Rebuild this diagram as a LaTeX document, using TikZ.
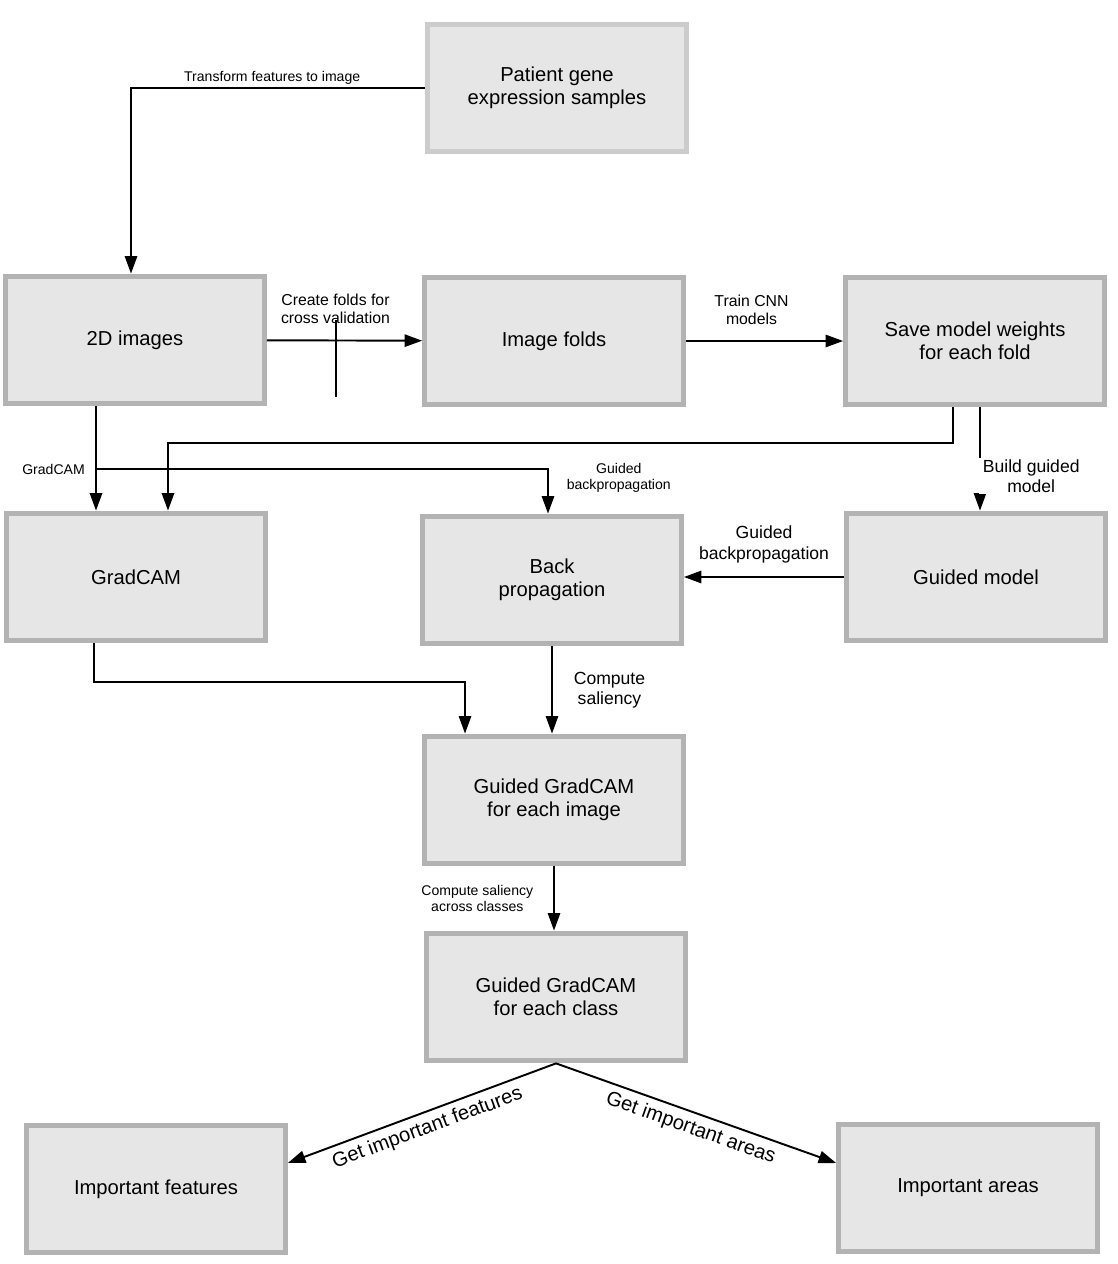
\documentclass[tikz,border=0pt]{standalone}
\usepackage{fontspec}
\setmainfont{Liberation Sans}
\usetikzlibrary{arrows.meta}
\definecolor{boxfill}{HTML}{E6E6E6}
\definecolor{boxline}{HTML}{B3B3B3}
\definecolor{topline}{HTML}{CCCCCC}
\begin{document}
\begin{tikzpicture}[x=0.02cm,y=-0.02cm,
box/.style={draw=boxline,fill=boxfill,line width=3pt,minimum width=5.17cm,minimum height=2.55cm,align=center,font=\fontsize{11.5}{13}\selectfont},
arr/.style={line width=1.1pt,-{Triangle[length=10pt,width=7pt]}},
lblsmall/.style={font=\fontsize{8}{9.5}\selectfont,align=center},
lblmed/.style={font=\fontsize{9}{10}\selectfont,align=center},
lblbig/.style={font=\fontsize{10}{11.5}\selectfont,align=center},
lblslope/.style={font=\fontsize{11.5}{13}\selectfont,sloped,below}]
\useasboundingbox(0,0)rectangle(1118,1264);
% boxes
\node[box,draw=topline](patient)at(557,88){Patient gene\\expression samples};
\node[box](img2d)at(135,340){2D images};
\node[box](folds)at(554,341){Image folds};
\node[box](save)at(975,341){Save model weights\\for each fold};
\node[box](gradcam)at(136,577){GradCAM};
\node[box](bp)at(552,580){Back\\propagation};
\node[box](gm)at(976,577){Guided model};
\node[box](ggci)at(554,800){Guided GradCAM\\for each image};
\node[box](ggcc)at(556,997){Guided GradCAM\\for each class};
\node[box](feat)at(156,1189){Important features};
\node[box](areas)at(968,1188){Important areas};
% top row
\draw[arr](patient.west)-|([xshift=-0.08cm]img2d.north)node[lblsmall,pos=.26,above,yshift=-0.06cm]{Transform features to image};
\draw[arr](img2d)--(folds)node[lblmed,midway,above,xshift=-0.18cm,yshift=0.2cm]{Create folds for\\cross validation};
\draw[line width=1.1pt](336,320)--(336,397);
\draw[arr](folds)--(save)node[lblmed,midway,above,xshift=-0.26cm,yshift=0.2cm]{Train CNN\\models};
% middle row
\coordinate(gcsplit)at(96,469);
\draw[arr]([xshift=-0.78cm]img2d.south)--([xshift=-0.78cm]img2d.south|-gradcam.north);
\draw[arr](gcsplit)-|([xshift=-0.08cm]bp.north)node[lblsmall,pos=.6,right,xshift=0.24cm]{Guided\\backpropagation};
\node[lblsmall,left,xshift=-0.1cm]at(gcsplit){GradCAM};
\draw[arr]([xshift=-0.44cm]save.south)--++(0,36)-|([xshift=0.64cm]gradcam.north);
\draw[arr]([xshift=0.1cm]save.south)--([xshift=0.1cm]save.south|-gm.north);
\node[lblbig,fill=white,inner xsep=2pt,inner ysep=1pt,anchor=west]at(979,476){Build guided\\model};
\draw[arr](gm.west)--(gm.west-|bp.east)node[lblbig,midway,above,yshift=0.15cm]{Guided\\backpropagation};
% lower part
\draw[arr]([xshift=-0.84cm]gradcam.south)--++(0,39)-|([xshift=-1.78cm]ggci.north);
\draw[arr](bp.south)--(bp.south|-ggci.north)node[lblbig,midway,right,xshift=0.3cm]{Compute\\saliency};
\draw[arr](ggci.south)--(ggci.south|-ggcc.north)node[lblsmall,midway,left,xshift=-0.28cm]{Compute saliency\\across classes};
\draw[arr](ggcc.south)--([yshift=0.52cm]feat.east)node[lblslope,midway]{Get important features};
\draw[arr](ggcc.south)--([yshift=0.5cm]areas.west)node[lblslope,midway]{Get important areas};
\end{tikzpicture}
\end{document}
